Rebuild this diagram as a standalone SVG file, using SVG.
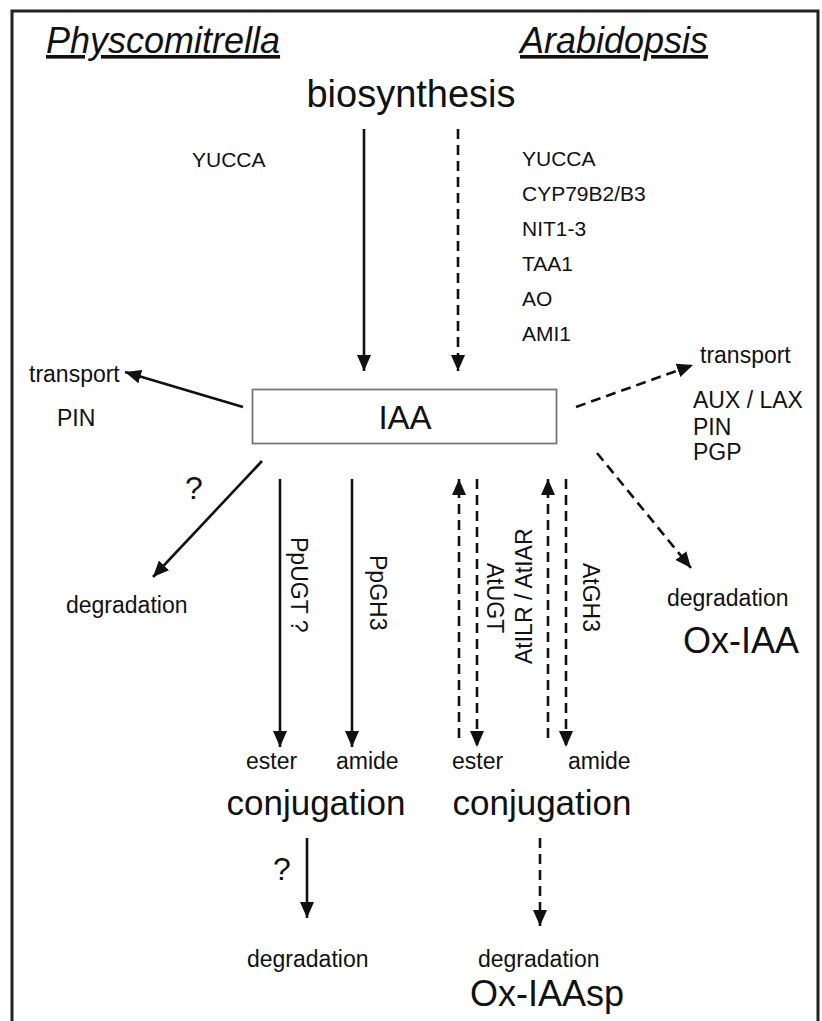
<svg xmlns="http://www.w3.org/2000/svg" width="822" height="1021" viewBox="0 0 822 1021">
<style>
text{font-family:"Liberation Sans",Arial,sans-serif;fill:#111}
.h{font-size:36px;font-style:italic;text-decoration:underline}
.big{font-size:35px}
.s{font-size:21px}
.m{font-size:23px}
.q{font-size:32px}
.ln{stroke:#111;stroke-width:2.6;fill:none}
.d{stroke-dasharray:10,6}
</style>
<defs>
<marker id="ah" markerUnits="userSpaceOnUse" markerWidth="17" markerHeight="14" refX="16" refY="7" orient="auto">
<path d="M0,0 L16,7 L0,14 z" fill="#111"/>
</marker>
</defs>
<rect width="822" height="1021" fill="#fff"/>
<path d="M12,1025 V11 H818 V1025" fill="none" stroke="#222" stroke-width="3"/>
<g id="titles">
<text class="h" x="46" y="53">Physcomitrella</text>
<text class="h" x="520" y="53">Arabidopsis</text>
</g>
<g id="biosynthesis"><text x="411" y="107" font-size="38" text-anchor="middle">biosynthesis</text></g>
<g id="iaa">
<rect x="252.5" y="389.5" width="304" height="54" fill="#fff" stroke="#777" stroke-width="1.8"/>
<text x="405" y="429" font-size="33" text-anchor="middle">IAA</text>
</g>
<g id="labels-bio">
<text class="s" x="192" y="167">YUCCA</text>
<text class="s" x="522" y="166">YUCCA</text>
<text class="s" x="522" y="201">CYP79B2/B3</text>
<text class="s" x="522" y="236">NIT1-3</text>
<text class="s" x="522" y="271">TAA1</text>
<text class="s" x="522" y="306">AO</text>
<text class="s" x="522" y="341">AMI1</text>
</g>
<g id="transport-left">
<text class="m" x="29" y="382">transport</text>
<text class="m" x="57" y="426">PIN</text>
</g>
<g id="transport-right">
<text class="m" x="700" y="363">transport</text>
<text class="m" x="693" y="408">AUX / LAX</text>
<text class="m" x="693" y="435">PIN</text>
<text class="m" x="693" y="460">PGP</text>
</g>
<g id="degradation-left">
<text class="q" x="185" y="499">?</text>
<text class="m" x="66" y="613">degradation</text>
</g>
<g id="degradation-right">
<text class="m" x="667" y="606">degradation</text>
<text x="683" y="653" font-size="36">Ox-IAA</text>
</g>
<g id="enzymes">
<text class="m" transform="translate(291,537) rotate(90)">PpUGT ?</text>
<text class="m" transform="translate(370,555) rotate(90)">PpGH3</text>
<text class="m" transform="translate(487,563) rotate(90)">AtUGT</text>
<text class="m" transform="translate(532,664) rotate(-90)">AtILR / AtIAR</text>
<text class="m" transform="translate(583,563) rotate(90)">AtGH3</text>
</g>
<g id="conjugates">
<text class="m" x="246" y="769">ester</text>
<text class="m" x="336" y="769">amide</text>
<text class="m" x="452" y="769">ester</text>
<text class="m" x="568" y="769">amide</text>
<text class="big" x="316" y="815" text-anchor="middle">conjugation</text>
<text class="big" x="542" y="815" text-anchor="middle">conjugation</text>
</g>
<g id="bottom">
<text class="q" x="273" y="880">?</text>
<text class="m" x="247" y="967">degradation</text>
<text class="m" x="478" y="967">degradation</text>
<text x="470" y="1006" font-size="36">Ox-IAAsp</text>
</g>
<g id="connectors">
<line class="ln" x1="364" y1="129" x2="364" y2="371" marker-end="url(#ah)"/>
<line class="ln d" x1="458" y1="129" x2="458" y2="371" marker-end="url(#ah)"/>
<line class="ln" x1="243" y1="407" x2="125" y2="372" marker-end="url(#ah)"/>
<line class="ln d" x1="576" y1="407" x2="693" y2="365" marker-end="url(#ah)"/>
<line class="ln" x1="262" y1="461" x2="153" y2="577" marker-end="url(#ah)"/>
<line class="ln d" x1="597" y1="453" x2="691" y2="568" marker-end="url(#ah)"/>
<line class="ln" x1="280" y1="479" x2="280" y2="747" marker-end="url(#ah)"/>
<line class="ln" x1="352" y1="479" x2="352" y2="747" marker-end="url(#ah)"/>
<line class="ln d" x1="459" y1="738" x2="459" y2="479" marker-end="url(#ah)"/>
<line class="ln d" x1="477" y1="479" x2="477" y2="747" marker-end="url(#ah)"/>
<line class="ln d" x1="548" y1="738" x2="548" y2="479" marker-end="url(#ah)"/>
<line class="ln d" x1="566" y1="479" x2="566" y2="747" marker-end="url(#ah)"/>
<line class="ln" x1="307" y1="838" x2="307" y2="918" marker-end="url(#ah)"/>
<line class="ln d" x1="540" y1="838" x2="540" y2="926" marker-end="url(#ah)"/>
</g>
</svg>
